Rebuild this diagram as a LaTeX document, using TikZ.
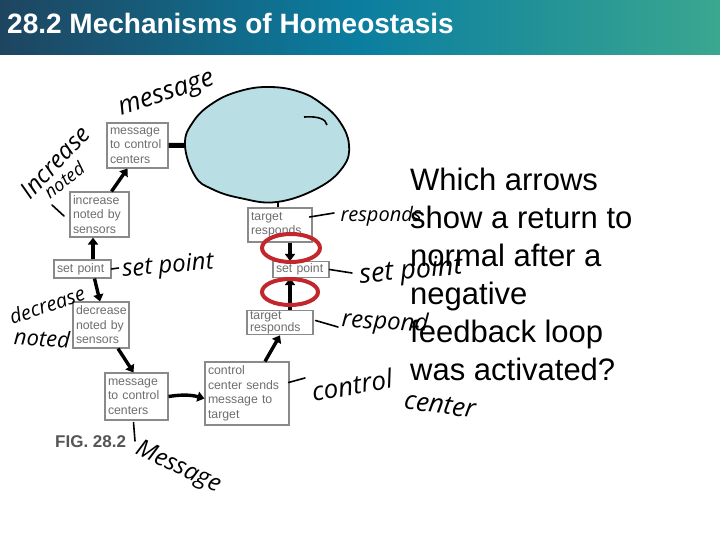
\documentclass[tikz,border=0pt]{standalone}
\usepackage{fontspec}
\setmainfont{Liberation Sans}
\newfontfamily\handfont{Open Sans}
\usetikzlibrary{arrows.meta,calc,shapes.geometric}
\definecolor{hdrL}{HTML}{1E4560}
\definecolor{hdrM}{HTML}{0B7EA0}
\definecolor{hdrR}{HTML}{3AA78F}
\definecolor{blobfill}{HTML}{B9DEE3}
\definecolor{ringred}{HTML}{C1272D}
\definecolor{boxtext}{HTML}{6E6E6E}
\definecolor{boxline}{HTML}{8A8A8A}
\definecolor{figgray}{HTML}{555555}
\begin{document}
\begin{tikzpicture}[x=1pt,y=-1pt,
  fbox/.style={draw=boxline, line width=1.1pt, fill=white, text=boxtext,
    font=\fontsize{12.3}{14.5}\selectfont, align=left, inner xsep=3pt, inner ysep=1pt},
  bigarrow/.style={line width=3.4pt, black, -{Triangle[length=7pt,width=10pt]}},
  ringnode/.style={draw=ringred, line width=4pt, ellipse, inner sep=0pt},
  hand/.style={font=\handfont\itshape\fontsize{24}{24}\selectfont, inner sep=0pt, text=black},
  handline/.style={line width=1.6pt, black, line cap=round}]
\useasboundingbox (0,0) rectangle (720,540);
\fill[white] (0,0) rectangle (720,540);
% header
\shade[left color=hdrL, right color=hdrR, middle color=hdrM] (0,0) rectangle (720,55);
\node[anchor=base west, inner sep=0pt, text=white, font=\bfseries\fontsize{28}{28}\selectfont] (title) at (7,34) {28.2 Mechanisms of Homeostasis};
% boxes
\node[fbox, minimum width=61pt, minimum height=45pt, text width=55pt] (m1) at (137.5,145.5) {message\\to control\\centers};
\node[fbox, minimum width=59pt, minimum height=45pt, text width=53pt] (inc) at (99.5,214.5) {increase\\noted by\\sensors};
\node[fbox, minimum width=57pt, minimum height=18pt, text width=51pt] (spL) at (82.5,269) {set point};
\node[fbox, minimum width=56pt, minimum height=46pt, text width=50pt] (dec) at (101,325) {decrease\\noted by\\sensors};
\node[fbox, minimum width=63pt, minimum height=47pt, text width=57pt] (m2) at (136.5,396.5) {message\\to control\\centers};
\node[fbox, minimum width=84pt, minimum height=63pt, text width=78pt] (cc) at (247,393.5) {control\\center sends\\message to\\target};
\node[fbox, minimum width=64pt, minimum height=34pt, text width=58pt] (tr1) at (280,225) {target\\responds};
\node[fbox, minimum width=56pt, minimum height=16pt, text width=50pt] (spR) at (301,269.5) {set point};
\node[fbox, minimum width=66pt, minimum height=24pt, text width=60pt, font=\fontsize{12.3}{12}\selectfont] (tr2) at (280,322.5) {target\\responds};
% arrows
\draw[bigarrow] ($(spL.north)+(10.5,0)$) -- ($(inc.south)+(-6.5,0)$);
\draw[bigarrow] ($(inc.north)+(12,0)$) -- ($(m1.south)+(-10,0)$);
\draw[bigarrow] ($(spL.south)+(12,0)$) -- ($(dec.north)+(-1,0)$);
\draw[bigarrow] ($(dec.south)+(17,0)$) -- ($(m2.north)+(-3,0)$);
\draw[bigarrow] (m2.east) to[bend left=12] ($(cc.west)+(0,5)$);
\draw[bigarrow] ($(cc.north)+(18,0)$) -- (tr2.south);
\draw[bigarrow] ($(tr1.south)+(10,0)$) -- ($(spR.north)+(-11,0)$);
\draw[bigarrow] ($(tr2.north)+(10,0)$) -- ($(spR.south)+(-11,0)$);
\coordinate (ccTop) at (215,145);
\coordinate (ccOut) at (278,190);
\draw[line width=5pt] (m1.east) -- (ccTop);
\draw[line width=2pt] (ccOut) -- ($(tr1.north)+(-2,0)$);
% blob
\draw[line width=1.8pt, fill=blobfill] plot[smooth cycle, tension=0.7] coordinates {(185,145) (193,122) (213,103) (240,91) (270,87) (300,92) (322,104) (340,122) (349,145) (343,167) (318,188) (277,202) (240,198) (212,189) (195,176)};
\draw[line width=1.6pt] (304,117) .. controls (318,116) and (326,119) .. (327,125);
% rings
\node[ringnode, minimum width=58pt, minimum height=28pt] (ring1) at (291,248) {};
\node[ringnode, minimum width=56pt, minimum height=26pt] (ring2) at (290,292) {};
% figure label
\node[anchor=base west, inner sep=0pt, text=figgray, font=\bfseries\fontsize{17}{17}\selectfont] (fig) at (55,447) {FIG. 28.2};
% question
\node[anchor=north west, inner sep=0pt, align=left, font=\fontsize{31}{38}\selectfont] (q) at (410,168) {Which arrows\\show a return to\\normal after a\\negative\\feedback loop\\was activated?};
% handwriting
\node[hand, font=\handfont\itshape\fontsize{26}{26}\selectfont, rotate=18] (hMsg1) at (167,96) {message};
\node[hand, font=\handfont\itshape\fontsize{24}{24}\selectfont, rotate=47] (hInc) at (55,162) {Increase};
\node[hand, font=\handfont\itshape\fontsize{18}{18}\selectfont, rotate=38] (hIncN) at (64,180) {noted};
\coordinate (incTick) at (52,205);
\draw[handline] (incTick) -- (64,216);
\node[hand, rotate=5] (hSP1) at (168,267) {set point};
\draw[handline] (spL.east) -- ($(spL.east)+(7,-1)$);
\node[hand, font=\handfont\itshape\fontsize{20}{20}\selectfont, rotate=19] (hDec) at (47,305) {decrease};
\node[hand, font=\handfont\itshape\fontsize{22}{22}\selectfont, rotate=-3] (hDecN) at (42,338) {noted};
\coordinate (msgTick) at (135,441);
\draw[handline] ($(m2.south)+(-3,2)$) -- (msgTick);
\node[hand, rotate=-25] (hMsg2) at (178,468) {Message};
\coordinate (r1end) at (334,213);
\draw[handline] ($(tr1.east)+(-3,-8)$) -- (r1end);
\node[hand, font=\handfont\itshape\fontsize{20}{20}\selectfont] (hR1) at (381,216) {responds};
\coordinate (spEnd) at (352,273);
\draw[handline] (spR.east) -- (spEnd);
\node[hand, font=\handfont\itshape\fontsize{27}{27}\selectfont, rotate=5] (hSP2) at (411,272) {set point};
\coordinate (r2end) at (338,327);
\draw[handline] ($(tr2.east)+(2,-2)$) -- (r2end);
\node[hand, rotate=-3] (hR2) at (385,323) {respond};
\coordinate (ccEnd) at (305,378);
\draw[handline] ($(cc.east)+(-1,-11)$) -- (ccEnd);
\node[hand, font=\handfont\itshape\fontsize{26}{26}\selectfont, rotate=10] (hCC1) at (352,385) {control};
\node[hand, font=\handfont\itshape\fontsize{26}{26}\selectfont, rotate=-8] (hCC2) at (440,405) {center};
\end{tikzpicture}
\end{document}
